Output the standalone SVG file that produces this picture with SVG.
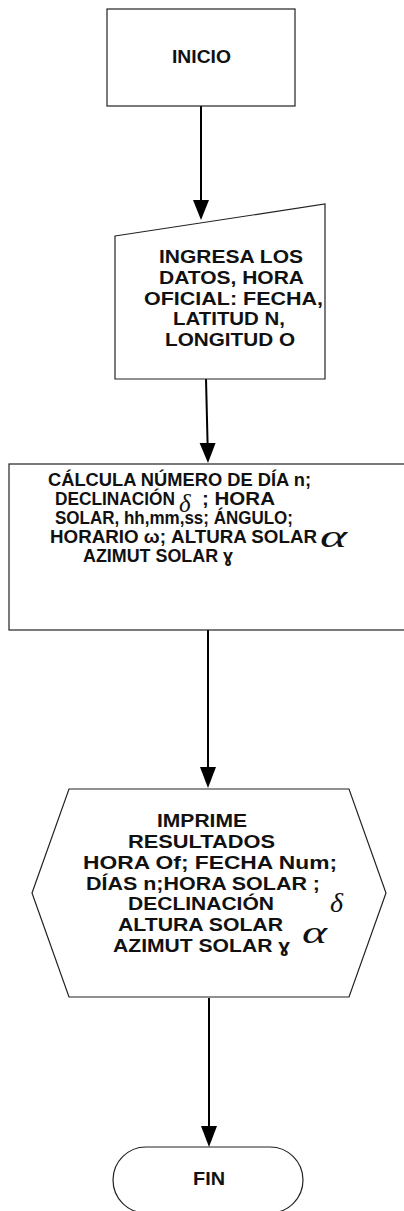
<svg xmlns="http://www.w3.org/2000/svg" width="404" height="1211" viewBox="0 0 404 1211">
<style>
.shape{fill:#fff;stroke:#222;stroke-width:1.2}
.t{font-family:"Liberation Sans","DejaVu Sans",Arial,sans-serif;font-weight:bold;font-size:18px;fill:#111}
.g{font-family:"Liberation Serif","DejaVu Serif","Times New Roman",serif;font-style:italic;fill:#111}
.c{fill:none;stroke:#000;stroke-width:2}
.h{fill:#000}
</style>
<rect width="404" height="1211" fill="#fff"/>
<g id="connectors">
<path class="c" d="M201,106 L201,200"/>
<path class="h" d="M193,200 L209,200 L201,220 Z"/>
<path class="c" d="M206,379 L207.6,444"/>
<path class="h" d="M199.6,443 L215.6,443 L208,463 Z"/>
<path class="c" d="M208,630 L208,768"/>
<path class="h" d="M200,767 L216,767 L208,788 Z"/>
<path class="c" d="M209,998 L209,1127"/>
<path class="h" d="M201,1126 L217,1126 L209,1147 Z"/>
</g>
<g id="inicio">
<rect class="shape" x="107" y="9" width="188" height="97"/>
<text class="t" x="172" y="63" textLength="59" lengthAdjust="spacingAndGlyphs">INICIO</text>
</g>
<g id="ingresa">
<polygon class="shape" points="115,236 325,204 325,379 115,379"/>
<text class="t" x="159" y="263" textLength="144" lengthAdjust="spacingAndGlyphs">INGRESA LOS</text>
<text class="t" x="159" y="284" textLength="145" lengthAdjust="spacingAndGlyphs">DATOS, HORA</text>
<text class="t" x="144" y="305" textLength="179" lengthAdjust="spacingAndGlyphs">OFICIAL: FECHA,</text>
<text class="t" x="173" y="325" textLength="112" lengthAdjust="spacingAndGlyphs">LATITUD N,</text>
<text class="t" x="165" y="346" textLength="130" lengthAdjust="spacingAndGlyphs">LONGITUD O</text>
</g>
<g id="calcula">
<rect class="shape" x="9" y="464" width="400" height="166"/>
<text class="t" x="48" y="486" textLength="263" lengthAdjust="spacingAndGlyphs">CÁLCULA NÚMERO DE DÍA n;</text>
<text class="t" x="55" y="505" textLength="120" lengthAdjust="spacingAndGlyphs">DECLINACIÓN</text>
<text class="g" x="179" y="512" font-size="25">δ</text>
<text class="t" x="202" y="505" textLength="73" lengthAdjust="spacingAndGlyphs">; HORA</text>
<text class="t" x="55" y="524" textLength="238" lengthAdjust="spacingAndGlyphs">SOLAR, hh,mm,ss; ÁNGULO;</text>
<text class="t" x="50" y="543" textLength="267" lengthAdjust="spacingAndGlyphs">HORARIO ω; ALTURA SOLAR</text>
<text class="g" x="320" y="547" font-size="31" textLength="27" lengthAdjust="spacingAndGlyphs">α</text>
<text class="t" x="83" y="562" textLength="150" lengthAdjust="spacingAndGlyphs">AZIMUT SOLAR ɣ</text>
</g>
<g id="imprime">
<polygon class="shape" points="69,789 349,789 386,893 349,997 69,997 32,893"/>
<text class="t" x="157" y="827" textLength="90" lengthAdjust="spacingAndGlyphs">IMPRIME</text>
<text class="t" x="128" y="848" textLength="147" lengthAdjust="spacingAndGlyphs">RESULTADOS</text>
<text class="t" x="83" y="869" textLength="254" lengthAdjust="spacingAndGlyphs">HORA Of; FECHA Num;</text>
<text class="t" x="86" y="890" textLength="234" lengthAdjust="spacingAndGlyphs">DÍAS n;HORA SOLAR ;</text>
<text class="t" x="128" y="910" textLength="146" lengthAdjust="spacingAndGlyphs">DECLINACIÓN</text>
<text class="g" x="330" y="912" font-size="28">δ</text>
<text class="t" x="118" y="931" textLength="165" lengthAdjust="spacingAndGlyphs">ALTURA SOLAR</text>
<text class="g" x="302" y="943" font-size="32" textLength="25" lengthAdjust="spacingAndGlyphs">α</text>
<text class="t" x="113" y="952" textLength="177" lengthAdjust="spacingAndGlyphs">AZIMUT SOLAR ɣ</text>
</g>
<g id="fin">
<path class="shape" d="M146,1147 L270,1147 A33,33 0 0 1 270,1213 L146,1213 A33,33 0 0 1 146,1147 Z"/>
<text class="t" x="193" y="1185" textLength="32" lengthAdjust="spacingAndGlyphs">FIN</text>
</g>
</svg>
